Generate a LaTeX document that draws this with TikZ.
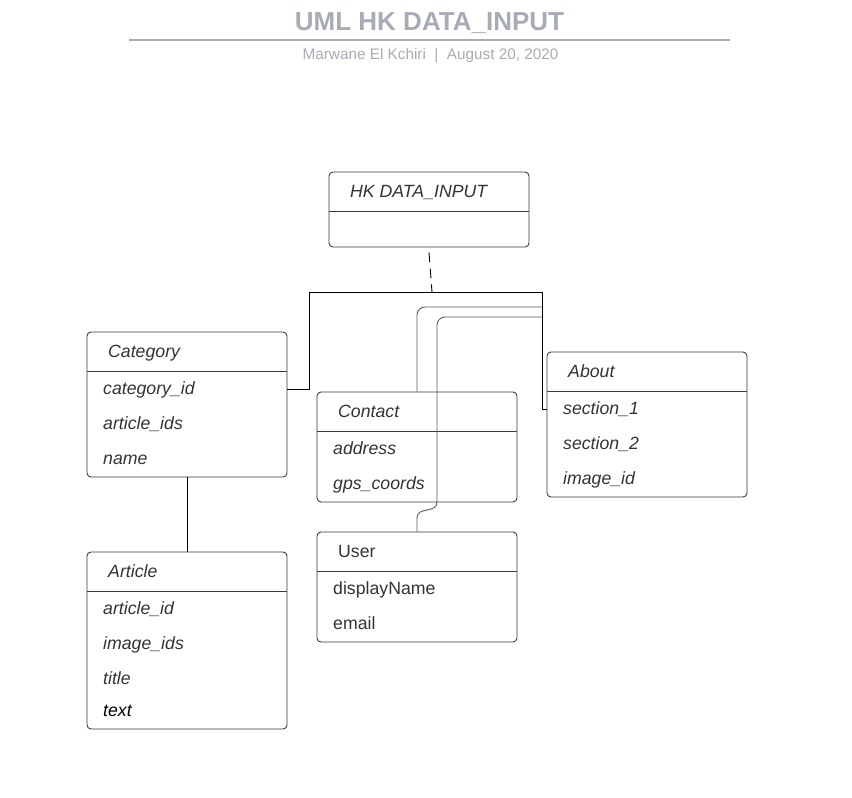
\documentclass[tikz,border=0pt]{standalone}
\usepackage{fontspec}
\setmainfont{Liberation Sans}
\definecolor{titlegray}{HTML}{A7ABB5}
\definecolor{boxgray}{HTML}{3A3A3A}
\definecolor{textgray}{HTML}{333333}
\definecolor{wiregray}{HTML}{5A5A5A}

\begin{document}
\begin{tikzpicture}[
    x=1pt, y=-1pt,
    every node/.style={inner sep=0pt},
    classbox/.style={draw=boxgray, line width=0.9pt, rounded corners=4pt, minimum width=200pt},
    classname/.style={anchor=west, font=\fontsize{17.7}{20}\selectfont\itshape, text=textgray,
        text height=12.5pt, text depth=3.5pt, yshift=-2pt},
    attr/.style={classname},
    plainattr/.style={classname, font=\fontsize{17.7}{20}\selectfont},
    wire/.style={draw=black, line width=0.9pt},
    subwire/.style={draw=wiregray, line width=0.9pt}
]
\useasboundingbox (0,0) rectangle (852,798);

% heading
\node[font=\fontsize{26}{30}\selectfont\bfseries, text=titlegray] (title) at (429.5,23) {UML HK DATA\_INPUT};
\coordinate (rule-left) at (129,40);
\coordinate (rule-right) at (730,40);
\draw[titlegray, line width=2pt] (rule-left) -- (rule-right);
\node[font=\fontsize{15.3}{18}\selectfont, text=titlegray] (byline) at (430.5,56) {Marwane El Kchiri\ \ |\ \ August 20, 2020};

% classes
\node[classbox, minimum height=75pt] (hk) at (429,209.5) {};
\node[classbox, minimum height=145pt] (category) at (187,404.5) {};
\node[classbox, minimum height=177pt] (article) at (187,640.5) {};
\node[classbox, minimum height=110pt] (contact) at (417,447) {};
\node[classbox, minimum height=110pt] (user) at (417,587) {};
\node[classbox, minimum height=145pt] (about) at (647,424.5) {};
\foreach \c in {hk,category,article,contact,user,about}
    \draw[boxgray, line width=0.9pt] ([yshift=-40pt]\c.north west) -- ([yshift=-40pt]\c.north east);

\node[classname] (hk-name) at (350,191) {HK DATA\_INPUT};

\node[classname] (category-name) at (108,351) {Category};
\node[attr] (category-id) at (103,388) {category\_id};
\node[attr] (category-articles) at (103,423) {article\_ids};
\node[attr] (category-label) at (103,458) {name};

\node[classname] (article-name) at (108,571) {Article};
\node[attr] (article-id) at (103,608) {article\_id};
\node[attr] (article-images) at (103,643) {image\_ids};
\node[attr] (article-title) at (103,678) {title};
\node[attr, text=black] (article-text) at (103,710) {text};

\node[classname] (contact-name) at (338,411) {Contact};
\node[attr] (contact-address) at (333,448) {address};
\node[attr] (contact-gps) at (333,483) {gps\_coords};

\node[plainattr] (user-name) at (338,551) {User};
\node[plainattr] (user-display) at (333,588) {displayName};
\node[plainattr] (user-email) at (333,623) {email};

\node[classname] (about-name) at (568,371) {About};
\node[attr] (about-s1) at (563,408) {section\_1};
\node[attr] (about-s2) at (563,443) {section\_2};
\node[attr] (about-image) at (563,478) {image\_id};

% links
\coordinate (hub) at (432,292);
\coordinate (bus) at (542,292);
\draw[wire, dash pattern=on 10pt off 6pt] ([yshift=-5pt]hk.south) -- (hub);
\draw[wire] ([yshift=15.5pt]category.east) -| (309,292) -- (bus) |- ([yshift=15.5pt]about.west);
\draw[wire] (category.south) -- (article.north);
\draw[subwire, rounded corners=8pt] (contact.north) |- (542,307);
\draw[subwire] (user.north) -- (417,518) .. controls (417,506) and (437,514) .. (437,502);
\draw[subwire, rounded corners=8pt] (437,502) |- (542,317);
\end{tikzpicture}
\end{document}
